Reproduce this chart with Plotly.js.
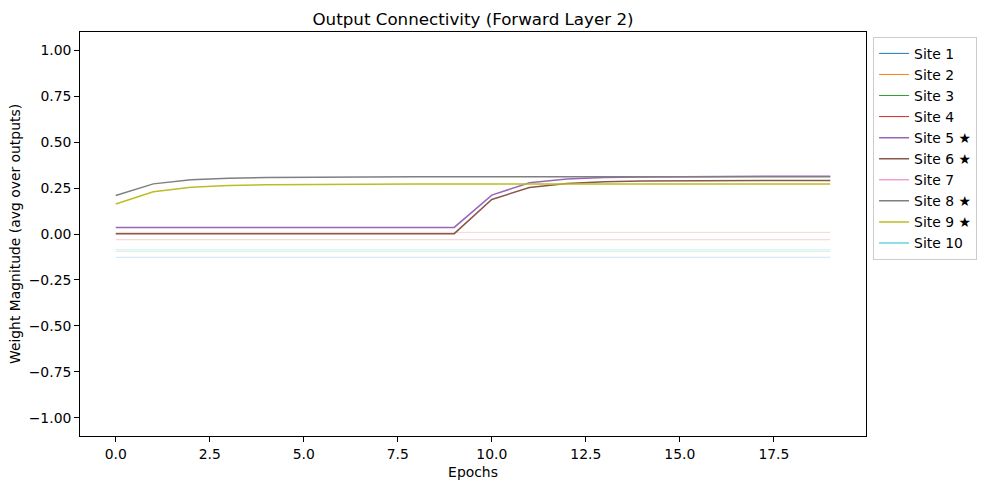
<!DOCTYPE html>
<html>
<head>
<meta charset="utf-8">
<script src="https://cdn.plot.ly/plotly-3.0.1.min.js"></script>
<style>
  html, body { margin: 0; padding: 0; background: #fff; }
  #chart { width: 989px; height: 490px; }
</style>
</head>
<body>
<div id="chart"></div>
<script>
// epochs on the x axis
var epochs = [0, 1, 2, 3, 4, 5, 6, 7, 8, 9, 10, 11, 12, 13, 14, 15, 16, 17, 18, 19];

// site names and colours (tab10)
var siteNames = ["Site 1", "Site 2", "Site 3", "Site 4", "Site 5 ★", "Site 6 ★", "Site 7", "Site 8 ★", "Site 9 ★", "Site 10"];
var siteColors = ["#1f77b4", "#ff7f0e", "#2ca02c", "#d62728", "#9467bd", "#8c564b", "#e377c2", "#7f7f7f", "#bcbd22", "#17becf"];
var starred = [false, false, false, false, true, true, false, true, true, false];

// avg weight magnitude per site
var site1 = [-0.127, -0.127, -0.127, -0.127, -0.127, -0.127, -0.127, -0.127, -0.127, -0.127, -0.127, -0.127, -0.127, -0.127, -0.127, -0.127, -0.127, -0.127, -0.127, -0.127];
var site2 = [-0.032, -0.032, -0.032, -0.032, -0.032, -0.032, -0.032, -0.032, -0.032, -0.032, -0.032, -0.032, -0.032, -0.032, -0.032, -0.032, -0.032, -0.032, -0.032, -0.032];
var site3 = [-0.094, -0.094, -0.094, -0.094, -0.094, -0.094, -0.094, -0.094, -0.094, -0.094, -0.094, -0.094, -0.094, -0.094, -0.094, -0.094, -0.094, -0.094, -0.094, -0.094];
var site4 = [0.009, 0.009, 0.009, 0.009, 0.009, 0.009, 0.009, 0.009, 0.009, 0.009, 0.009, 0.009, 0.009, 0.009, 0.009, 0.009, 0.009, 0.009, 0.009, 0.009];
var site5 = [0.036, 0.036, 0.036, 0.036, 0.036, 0.036, 0.036, 0.036, 0.036, 0.036, 0.212, 0.279, 0.300, 0.308, 0.311, 0.313, 0.314, 0.315, 0.315, 0.315];
var site6 = [0.002, 0.002, 0.002, 0.002, 0.002, 0.002, 0.002, 0.002, 0.002, 0.002, 0.188, 0.253, 0.275, 0.284, 0.288, 0.290, 0.291, 0.292, 0.292, 0.292];
var site7 = [-0.030, -0.030, -0.030, -0.030, -0.030, -0.030, -0.030, -0.030, -0.030, -0.030, -0.030, -0.030, -0.030, -0.030, -0.030, -0.030, -0.030, -0.030, -0.030, -0.030];
var site8 = [0.210, 0.273, 0.295, 0.304, 0.308, 0.310, 0.311, 0.312, 0.312, 0.312, 0.312, 0.312, 0.312, 0.312, 0.312, 0.312, 0.312, 0.312, 0.312, 0.312];
var site9 = [0.163, 0.230, 0.255, 0.264, 0.268, 0.270, 0.271, 0.272, 0.272, 0.272, 0.272, 0.272, 0.272, 0.272, 0.272, 0.272, 0.272, 0.272, 0.272, 0.272];
var site10 = [-0.085, -0.085, -0.085, -0.085, -0.085, -0.085, -0.085, -0.085, -0.085, -0.085, -0.085, -0.085, -0.085, -0.085, -0.085, -0.085, -0.085, -0.085, -0.085, -0.085];
var siteValues = [site1, site2, site3, site4, site5, site6, site7, site8, site9, site10];

var xTicks = [0, 2.5, 5, 7.5, 10, 12.5, 15, 17.5];
var yTicks = [-1, -0.75, -0.5, -0.25, 0, 0.25, 0.5, 0.75, 1];

var data = [];
// plotted lines: faint for the non-starred sites
siteValues.forEach(function(vals, i) {
  data.push({
    x: epochs,
    y: vals,
    type: "scatter",
    mode: "lines",
    name: siteNames[i],
    showlegend: false,
    opacity: starred[i] ? 1 : 0.2,
    line: { color: siteColors[i], width: starred[i] ? 1.5 : 1 }
  });
});
// legend entries drawn at full colour, like matplotlib does
siteNames.forEach(function(name, i) {
  data.push({
    x: [null],
    y: [null],
    type: "scatter",
    mode: "lines",
    name: name,
    line: { color: siteColors[i], width: starred[i] ? 1.5 : 1 }
  });
});

var font = { family: "DejaVu Sans", size: 13.9, color: "#000" };

var layout = {
  width: 989,
  height: 490,
  margin: { l: 80, r: 123, t: 32, b: 54 },
  paper_bgcolor: "#fff",
  plot_bgcolor: "#fff",
  font: font,
  showlegend: true,
  title: {
    text: "Output Connectivity (Forward Layer 2)",
    font: { family: "DejaVu Sans", size: 16.7, color: "#000" },
    x: 0.5, xref: "paper", xanchor: "center",
    y: 1, yref: "paper", yanchor: "bottom", pad: { b: 7 }
  },
  xaxis: {
    range: [-0.95, 19.95],
    tickvals: xTicks,
    ticktext: xTicks.map(function(v) { return v.toFixed(1); }),
    ticks: "outside", ticklen: 4.9, tickwidth: 1, tickcolor: "#000",
    showline: true, linecolor: "#000", linewidth: 1, mirror: true,
    showgrid: false, zeroline: false,
    title: { text: "Epochs", font: font, standoff: 6 }
  },
  yaxis: {
    range: [-1.1, 1.1],
    tickvals: yTicks,
    ticktext: yTicks.map(function(v) { return (v < 0 ? "\u2212" : "") + Math.abs(v).toFixed(2); }),
    ticks: "outside", ticklen: 4.9, tickwidth: 1, tickcolor: "#000",
    showline: true, linecolor: "#000", linewidth: 1, mirror: true,
    showgrid: false, zeroline: false,
    title: { text: "Weight Magnitude (avg over outputs)", font: font, standoff: 4 }
  },
  legend: {
    x: 1.009, xanchor: "left",
    y: 0.988, yanchor: "top",
    bgcolor: "rgba(255,255,255,0.8)",
    bordercolor: "#cccccc",
    borderwidth: 1,
    font: font,
    itemwidth: 30,
    tracegroupgap: 0
  }
};

Plotly.newPlot("chart", data, layout, { displayModeBar: false, staticPlot: true });
</script>
</body>
</html>
